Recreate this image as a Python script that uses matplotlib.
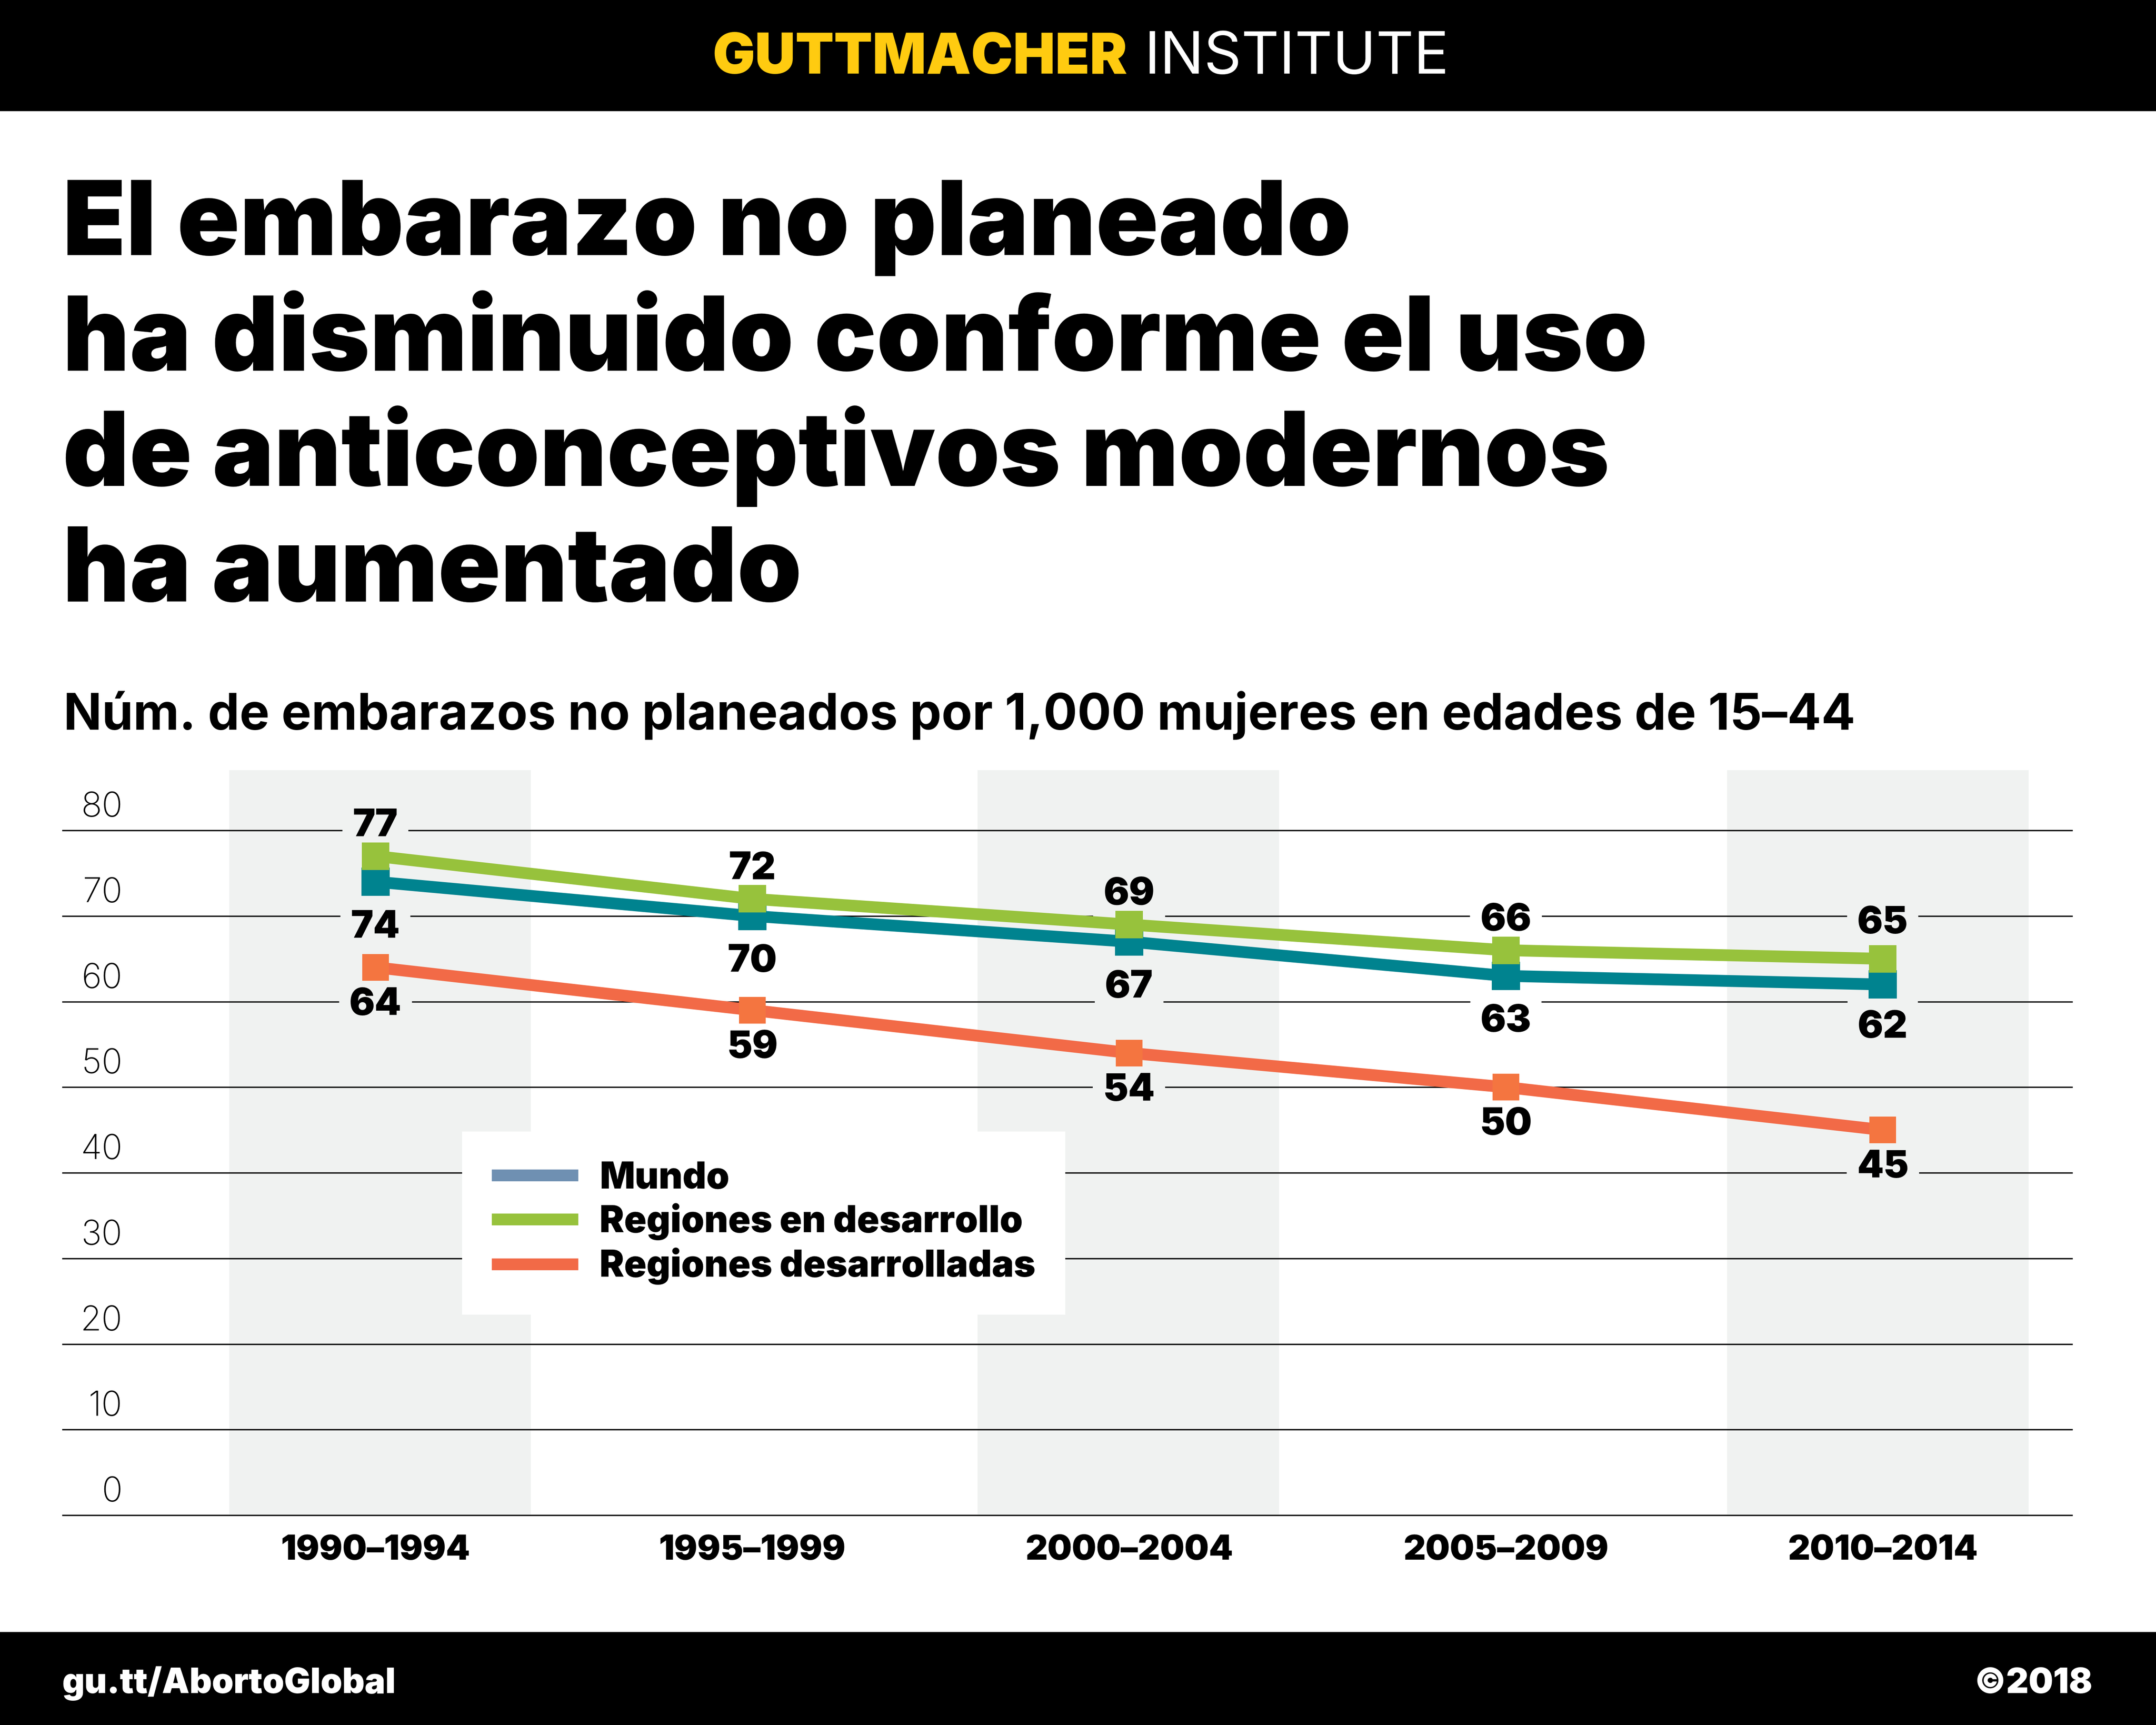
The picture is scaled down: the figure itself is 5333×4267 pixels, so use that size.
import matplotlib
matplotlib.use("Agg")
import matplotlib.pyplot as plt
from matplotlib.lines import Line2D
from matplotlib.patches import Rectangle
from matplotlib.transforms import ScaledTranslation

W, H = 5333, 4267
DPI = 300

title_lines = ["El embarazo no planeado", "ha disminuido conforme el uso",
               "de anticonceptivos modernos", "ha aumentado"]
subtitle = "Núm. de embarazos no planeados por 1,000 mujeres en edades de 15–44"

periods = ["1990–1994", "1995–1999", "2000–2004", "2005–2009", "2010–2014"]
mundo = [74, 70, 67, 63, 62]
en_desarrollo = [77, 72, 69, 66, 65]
desarrolladas = [64, 59, 54, 50, 45]
y_ticks = [0, 10, 20, 30, 40, 50, 60, 70, 80]
band_starts = [-0.388, 1.598, 3.587]

TEAL = "#00838F"
GREEN = "#97C23C"
ORANGE = "#F26A47"
ORANGE_MARK = "#F47540"
BLUE = "#6F90B2"
BAND = "#F0F2F1"
YELLOW = "#FFCB10"
FONT = "Inter"


def fx(px):
    return px / W


def fy(px):
    return 1 - px / H


plt.rcParams["font.family"] = [FONT, "DejaVu Sans"]
fig = plt.figure(figsize=(W / DPI, H / DPI), dpi=DPI, facecolor="white")

# black bars top and bottom
for top, bottom in [(0, 275), (4037, 4267)]:
    fig.add_artist(Rectangle((0, fy(bottom)), 1, (bottom - top) / H,
                             transform=fig.transFigure, color="black", lw=0))

fig.text(fx(1762), fy(182), "GUTTMACHER", color=YELLOW, fontsize=33.4, fontweight="black")
fig.text(fx(2830), fy(182), "INSTITUTE", color="white", fontsize=34.7, fontweight="normal")

for line, base in zip(title_lines, [631, 917, 1202, 1488]):
    fig.text(fx(155), fy(base), line, fontsize=61.3, fontweight="black", color="black")

fig.text(fx(157), fy(1805), subtitle, fontsize=29.9, fontweight="bold", color="black")

fig.text(fx(153), fy(4188), "gu.tt/AbortoGlobal", color="white", fontsize=20.6, fontweight="black")
fig.text(fx(5176), fy(4188), "©2018", color="white", fontsize=20.6, fontweight="black", ha="right")

# plot area
ax = fig.add_axes([fx(155), fy(3748), (5125 - 155) / W, (3748 - 1905) / H])
ax.set_facecolor("none")
ax.set_xlim(-0.83, 4.502)
ax.set_ylim(0, 87.04)
for s in ax.spines.values():
    s.set_visible(False)

x = list(range(len(periods)))
for start in band_starts:
    ax.axvspan(start, start + 0.8, color=BAND, lw=0, zorder=0)

ax.set_axisbelow(True)
ax.set_yticks(y_ticks)
ax.grid(axis="y", color="black", lw=0.8, clip_on=False)
ax.grid(axis="x", visible=False)
ax.tick_params(axis="y", length=0, pad=-35.5, labelsize=20.5)
up = ScaledTranslation(0, 17 / DPI, fig.dpi_scale_trans)
for lab in ax.get_yticklabels():
    lab.set_va("bottom")
    lab.set_fontweight("light")
    lab.set_transform(lab.get_transform() + up)
ax.set_xticks(x, periods)
ax.tick_params(axis="x", length=0, pad=11.5, labelsize=20.4)
for lab in ax.get_xticklabels():
    lab.set_fontweight("black")

# label distance from its point, in px of the small view (down is positive)
series = [(desarrolladas, ORANGE, ORANGE_MARK, 27.5, 15.8),
          (mundo, TEAL, TEAL, 33.5, 17),
          (en_desarrollo, GREEN, GREEN, -21.5, 16.2)]
nudges = {65: -4, 62: -2}
for vals, col, mark, off, ms in series:
    ax.plot(x, vals, color=col, lw=7, marker="s", ms=ms, mfc=mark, mec=mark, mew=0,
            zorder=3, solid_capstyle="butt")
    for i, v in zip(x, vals):
        bg = BAND if i % 2 == 0 else "white"
        dy = off + nudges.get(v, 0)
        ax.annotate(str(v), (i, v), xytext=(0, -dy * 3.4 * 72 / DPI), textcoords="offset points",
                    ha="center", va="center", fontsize=22.5, fontweight="black", zorder=2.5,
                    bbox=dict(facecolor=bg, edgecolor="none", pad=6))

handles = [Line2D([], [], color=BLUE, lw=7, solid_capstyle="butt"),
           Line2D([], [], color=GREEN, lw=7, solid_capstyle="butt"),
           Line2D([], [], color=ORANGE, lw=7, solid_capstyle="butt")]
leg = ax.legend(handles, ["Mundo", "Regiones en desarrollo", "Regiones desarrolladas"],
                loc="upper left", bbox_to_anchor=(fx(1143), fy(2799)),
                bbox_transform=fig.transFigure, borderaxespad=0, frameon=True,
                fancybox=False, framealpha=1, facecolor="white", edgecolor="none",
                handlelength=2.35, handletextpad=0.58, labelspacing=0.2,
                borderpad=0.8, prop=dict(family=[FONT, "DejaVu Sans"], weight="black", size=21.9))

fig.savefig("out.png", dpi=DPI)
